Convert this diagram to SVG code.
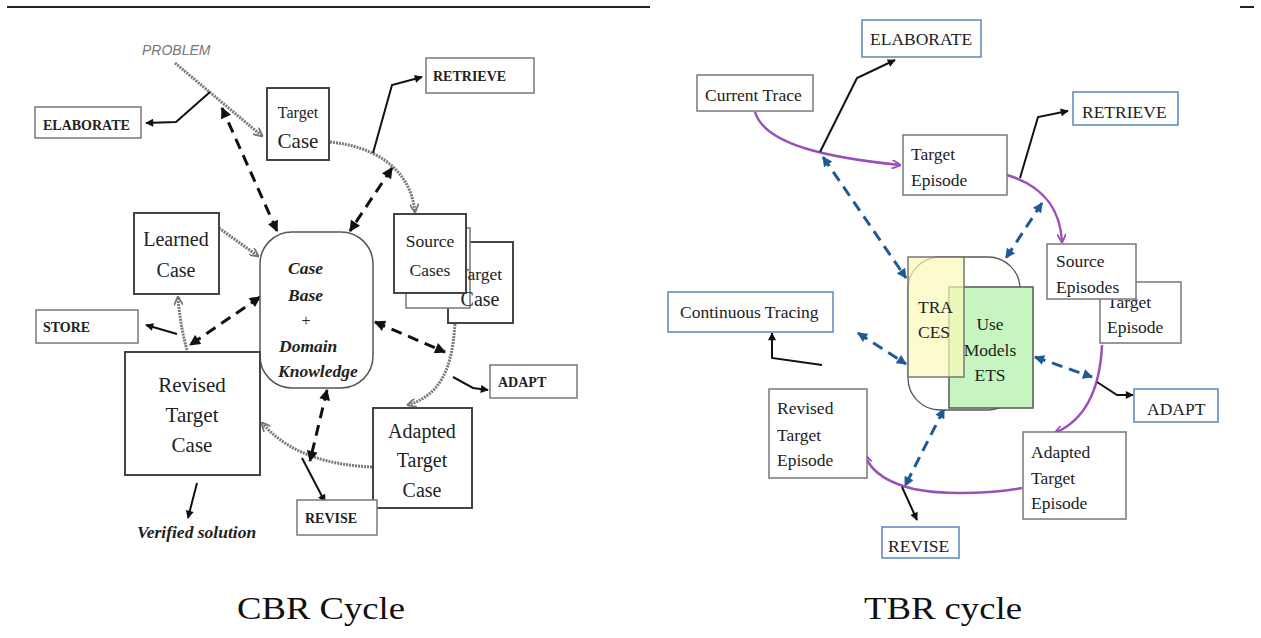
<svg xmlns="http://www.w3.org/2000/svg" width="1261" height="638" viewBox="0 0 1261 638">
<style>
.bx{fill:#fff;stroke:#444;stroke-width:2}
.bxl{fill:#fff;stroke:#777;stroke-width:1.5}
.bxb{fill:#fff;stroke:#5a86bd;stroke-width:1.5}
.sr{font-family:"Liberation Serif",serif;fill:#222}
.b14{font-family:"Liberation Serif",serif;font-weight:bold;font-size:14px;fill:#222}
.bi{font-family:"Liberation Serif",serif;font-weight:bold;font-style:italic;font-size:17.5px;fill:#222}
.t17{font-family:"Liberation Serif",serif;font-size:17.5px;fill:#222}
.blk{fill:none;stroke:#111;stroke-width:2}
.dsh{fill:none;stroke:#111;stroke-width:3;stroke-dasharray:11 7}
.gry{fill:none;stroke:#7a7a7a;stroke-width:3;stroke-dasharray:2 1}
.pur{fill:none;stroke:#9b4fb8;stroke-width:2.5}
.bdsh{fill:none;stroke:#1f5a96;stroke-width:3;stroke-dasharray:11 7}
.cap{font-family:"Liberation Serif",serif;font-size:32px;fill:#111}
</style>
<defs>
<marker id="ak" viewBox="0 0 10 10" refX="9" refY="5" markerWidth="10" markerHeight="8" markerUnits="userSpaceOnUse" orient="auto-start-reverse"><path d="M0,0 L10,5 L0,10 z" fill="#111"/></marker>
<marker id="ad" viewBox="0 0 10 10" refX="9" refY="5" markerWidth="13" markerHeight="11" markerUnits="userSpaceOnUse" orient="auto-start-reverse"><path d="M0,0 L10,5 L0,10 z" fill="#111"/></marker>
<marker id="ag" viewBox="0 0 10 10" refX="9" refY="5" markerWidth="10" markerHeight="9" markerUnits="userSpaceOnUse" orient="auto"><path d="M0,0 L10,5 L0,10" fill="none" stroke="#777" stroke-width="2"/></marker>
<marker id="ap" viewBox="0 0 10 10" refX="9" refY="5" markerWidth="10" markerHeight="9" markerUnits="userSpaceOnUse" orient="auto"><path d="M0,0 L10,5 L0,10" fill="none" stroke="#9b4fb8" stroke-width="2"/></marker>
<marker id="abl" viewBox="0 0 10 10" refX="9" refY="5" markerWidth="12" markerHeight="10" markerUnits="userSpaceOnUse" orient="auto-start-reverse"><path d="M0,0 L10,5 L0,10 z" fill="#1f5a96"/></marker>
</defs>

<line x1="7" y1="7" x2="650" y2="7" stroke="#222" stroke-width="2"/>
<line x1="1240" y1="7" x2="1254" y2="7" stroke="#222" stroke-width="2"/>

<g id="connectors">
<!-- CBR -->
<line class="gry" x1="175" y1="63" x2="262" y2="136" marker-end="url(#ag)"/>
<polyline class="blk" points="210,92 176,122 146,123" marker-end="url(#ak)"/>
<line class="dsh" x1="277" y1="231" x2="222" y2="108" marker-start="url(#ad)" marker-end="url(#ad)"/>
<path class="gry" d="M330,142 C370,146 410,165 415,212" marker-end="url(#ag)"/>
<polyline class="blk" points="373,153 392,85 422,77" marker-end="url(#ak)"/>
<line class="dsh" x1="392" y1="168" x2="350" y2="231" marker-start="url(#ad)" marker-end="url(#ad)"/>
<line class="gry" x1="219" y1="228" x2="258" y2="256" marker-end="url(#ag)"/>
<path class="gry" d="M187,350 Q180,325 178,297" marker-end="url(#ag)"/>
<line class="blk" x1="177" y1="334" x2="146" y2="325" marker-end="url(#ak)"/>
<line class="dsh" x1="260" y1="297" x2="190" y2="345" marker-start="url(#ad)" marker-end="url(#ad)"/>
<line class="dsh" x1="375" y1="322" x2="445" y2="352" marker-start="url(#ad)" marker-end="url(#ad)"/>
<path class="gry" d="M455,324 C452,370 440,395 408,405" marker-end="url(#ag)"/>
<polyline class="blk" points="453,377 473,388 488,390" marker-end="url(#ak)"/>
<path class="gry" d="M372,467 C330,465 290,455 262,423" marker-end="url(#ag)"/>
<line class="blk" x1="302" y1="458" x2="325" y2="502" marker-end="url(#ak)"/>
<line class="dsh" x1="327" y1="390" x2="310" y2="461" marker-start="url(#ad)" marker-end="url(#ad)"/>
<line class="blk" x1="197" y1="483" x2="188" y2="518" stroke-width="3" marker-end="url(#ak)"/>
<!-- TBR -->
<path class="pur" d="M755,112 C765,145 830,158 900,165" marker-end="url(#ap)"/>
<polyline class="blk" points="820,152 857,78 895,60" marker-end="url(#ak)"/>
<line class="bdsh" x1="823" y1="157" x2="906" y2="278" marker-start="url(#abl)" marker-end="url(#abl)"/>
<path class="pur" d="M1007,175 C1040,185 1060,205 1062,242" marker-end="url(#ap)"/>
<polyline class="blk" points="1020,178 1038,117 1068,111" marker-end="url(#ak)"/>
<line class="bdsh" x1="1042" y1="203" x2="1006" y2="258" marker-start="url(#abl)" marker-end="url(#abl)"/>
<path class="pur" d="M1102,345 C1100,390 1085,420 1055,433" marker-end="url(#ap)"/>
<polyline class="blk" points="1097,382 1117,395 1133,395" marker-end="url(#ak)"/>
<line class="bdsh" x1="1035" y1="357" x2="1092" y2="377" marker-start="url(#abl)" marker-end="url(#abl)"/>
<line class="bdsh" x1="858" y1="333" x2="906" y2="364" marker-start="url(#abl)" marker-end="url(#abl)"/>
<polyline class="blk" points="822,365 772,358 772,333" stroke-width="2.5" marker-end="url(#ak)"/>
<line class="bdsh" x1="944" y1="409" x2="905" y2="486" marker-start="url(#abl)" marker-end="url(#abl)"/>
<path class="pur" d="M1022,488 C980,495 930,495 903,486 C885,480 870,470 865,455" marker-end="url(#ap)"/>
<line class="blk" x1="902" y1="487" x2="917" y2="520" marker-end="url(#ak)"/>
</g>

<!-- CBR nodes -->
<g id="problem"><text x="142" y="55" font-family="Liberation Sans,sans-serif" font-style="italic" font-size="14" fill="#777">PROBLEM</text></g>
<g id="cbr-elaborate"><rect class="bxl" x="35" y="107" width="106" height="31"/><text class="b14" x="43" y="130">ELABORATE</text></g>
<g id="cbr-target-case"><rect class="bx" x="267" y="88" width="62" height="72"/><text class="sr" x="298" y="118" font-size="16" text-anchor="middle">Target</text><text class="sr" x="298" y="148" font-size="21" text-anchor="middle">Case</text></g>
<g id="cbr-retrieve"><rect class="bxl" x="426" y="58" width="108" height="35"/><text class="b14" x="433" y="81">RETRIEVE</text></g>
<g id="case-base"><rect x="260" y="232" width="113" height="156" rx="32" fill="#fff" stroke="#555" stroke-width="1.5"/>
<text class="bi" x="288" y="274">Case</text><text class="bi" x="288" y="301">Base</text><text class="sr" x="306" y="326" font-size="16" text-anchor="middle">+</text><text class="bi" x="279" y="352">Domain</text><text class="bi" x="278" y="377">Knowledge</text></g>
<g id="cbr-target-case-2"><rect class="bx" x="448" y="242" width="65" height="81"/><rect class="bxl" x="406" y="228" width="64" height="80"/><text class="sr" x="480" y="280" font-size="17.5" text-anchor="middle">Target</text><text class="sr" x="480" y="306" font-size="20" text-anchor="middle">Case</text></g>
<g id="source-cases"><rect class="bx" x="394" y="214" width="72" height="79" stroke-width="1.5"/><text class="sr" x="430" y="247" font-size="17.5" text-anchor="middle">Source</text><text class="sr" x="430" y="276" font-size="17.5" text-anchor="middle">Cases</text></g>
<g id="learned-case"><rect class="bx" x="134" y="213" width="85" height="81"/><text class="sr" x="176" y="246" font-size="20" text-anchor="middle">Learned</text><text class="sr" x="176" y="277" font-size="20" text-anchor="middle">Case</text></g>
<g id="cbr-store"><rect class="bxl" x="36" y="310" width="102" height="33"/><text class="b14" x="43" y="332">STORE</text></g>
<g id="revised-target-case"><rect class="bx" x="125" y="352" width="135" height="123"/><text class="sr" x="192" y="392" font-size="21" text-anchor="middle">Revised</text><text class="sr" x="192" y="422" font-size="21" text-anchor="middle">Target</text><text class="sr" x="192" y="452" font-size="21" text-anchor="middle">Case</text></g>
<g id="cbr-adapt"><rect class="bxl" x="490" y="365" width="87" height="33"/><text class="b14" x="498" y="387">ADAPT</text></g>
<g id="adapted-target-case"><rect class="bx" x="373" y="408" width="99" height="100"/><text class="sr" x="422" y="438" font-size="20" text-anchor="middle">Adapted</text><text class="sr" x="422" y="467" font-size="20" text-anchor="middle">Target</text><text class="sr" x="422" y="497" font-size="20" text-anchor="middle">Case</text></g>
<g id="cbr-revise"><rect class="bxl" x="297" y="500" width="80" height="35"/><text class="b14" x="305" y="523">REVISE</text></g>
<g id="verified-solution"><text class="bi" x="137" y="538" font-size="14.5">Verified solution</text></g>

<!-- TBR nodes -->
<g id="current-trace"><rect class="bxl" x="697" y="75" width="116" height="36"/><text class="t17" x="705" y="101">Current Trace</text></g>
<g id="tbr-elaborate"><rect class="bxb" x="862" y="20" width="119" height="37"/><text class="t17" x="870" y="45">ELABORATE</text></g>
<g id="target-episode"><rect class="bxl" x="903" y="135" width="104" height="60"/><text class="t17" x="911" y="160">Target</text><text class="t17" x="911" y="186">Episode</text></g>
<g id="tbr-retrieve"><rect class="bxb" x="1073" y="92" width="105" height="33"/><text class="t17" x="1082" y="118">RETRIEVE</text></g>
<g id="tbr-center">
<rect x="908" y="257" width="112" height="153" rx="32" fill="#fff" stroke="#555" stroke-width="1.3"/>
<rect x="949" y="287" width="84" height="121" fill="#c6f5c0" stroke="#555" stroke-width="1.5"/>
<rect x="908" y="257" width="56" height="120" fill="#fafab8" fill-opacity="0.7" stroke="#777" stroke-width="1.5"/>
<text class="t17" x="918" y="313">TRA</text><text class="t17" x="918" y="338">CES</text>
<text class="t17" x="990" y="330" text-anchor="middle">Use</text><text class="t17" x="990" y="356" text-anchor="middle">Models</text><text class="t17" x="990" y="381" text-anchor="middle">ETS</text>
</g>
<g id="tbr-target-episode-2"><rect class="bxl" x="1100" y="282" width="81" height="61"/><text class="t17" x="1107" y="308">Target</text><text class="t17" x="1107" y="333">Episode</text></g>
<g id="source-episodes"><rect class="bxl" x="1047" y="244" width="89" height="55"/><text class="t17" x="1056" y="267">Source</text><text class="t17" x="1056" y="293">Episodes</text></g>
<g id="continuous-tracing"><rect class="bxb" x="668" y="292" width="165" height="40"/><text class="t17" x="680" y="318">Continuous Tracing</text></g>
<g id="tbr-adapt"><rect class="bxb" x="1134" y="389" width="84" height="33"/><text class="t17" x="1147" y="415">ADAPT</text></g>
<g id="revised-target-episode"><rect class="bxl" x="769" y="389" width="98" height="89"/><text class="t17" x="777" y="414">Revised</text><text class="t17" x="777" y="441">Target</text><text class="t17" x="777" y="466">Episode</text></g>
<g id="adapted-target-episode"><rect class="bxl" x="1023" y="432" width="103" height="87"/><text class="t17" x="1031" y="458">Adapted</text><text class="t17" x="1031" y="484">Target</text><text class="t17" x="1031" y="509">Episode</text></g>
<g id="tbr-revise"><rect class="bxb" x="882" y="527" width="77" height="31"/><text class="t17" x="888" y="552">REVISE</text></g>

<g id="captions">
<text class="cap" x="237" y="619" textLength="168" lengthAdjust="spacingAndGlyphs">CBR Cycle</text>
<text class="cap" x="864" y="619" textLength="158" lengthAdjust="spacingAndGlyphs">TBR cycle</text>
</g>
</svg>
